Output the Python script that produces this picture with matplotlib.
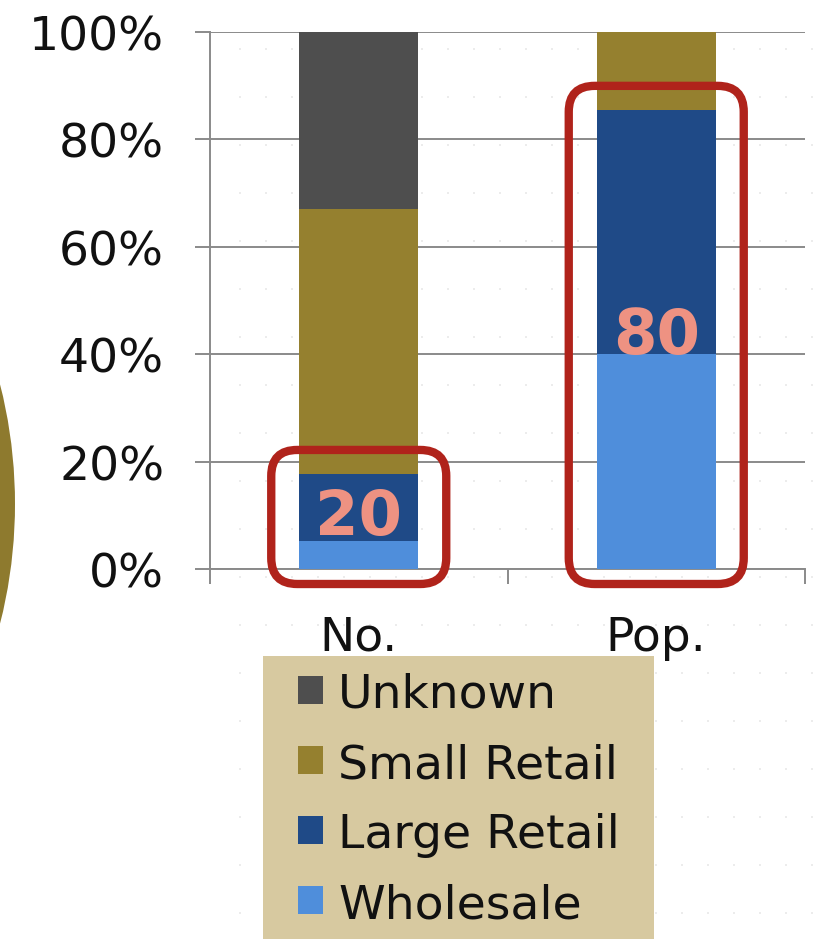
import matplotlib
matplotlib.use("Agg")
import matplotlib.pyplot as plt
from matplotlib.patches import Patch, FancyBboxPatch, Rectangle, Circle
import numpy as np

categories = ["No.", "Pop."]
series_names = ["Wholesale", "Large Retail", "Small Retail", "Unknown"]
wholesale = [5.2, 40.0]
large_retail = [12.5, 45.5]
small_retail = [49.3, 14.5]
unknown = [33.0, 0.0]
highlight_labels = ["20", "80"]
y_ticks = [0, 20, 40, 60, 80, 100]
y_tick_labels = ["0%", "20%", "40%", "60%", "80%", "100%"]

colors = {"Wholesale": "#4F8EDB", "Large Retail": "#1F4A87",
          "Small Retail": "#95802F", "Unknown": "#4E4E4E"}

W, H = 818, 945
fig = plt.figure(figsize=(W / 100, H / 100), dpi=100)
fig.patch.set_facecolor("white")

# faint dotted background
dx = np.arange(240, 818, 26)
dy = np.arange(50, 945, 48)
gx, gy = np.meshgrid(dx, dy)
bg = fig.add_axes([0, 0, 1, 1], zorder=-5)
bg.set_xlim(0, W); bg.set_ylim(H, 0); bg.axis("off")
bg.scatter(gx.ravel(), gy.ravel(), s=4, color="#ececec", marker="s", linewidths=0)

# olive circle at left edge
fig.add_artist(Circle((-4.725, (H - 505) / 100), 4.875, transform=fig.dpi_scale_trans,
                      facecolor="#8E7A2E", edgecolor="none", zorder=-4))

ax = fig.add_axes([210 / W, 1 - 570 / H, (805 - 210) / W, (570 - 33) / H])
ax.set_facecolor("none")
x = np.arange(len(categories))
bw = 0.4
bottom = np.zeros(len(categories))
data = {"Wholesale": wholesale, "Large Retail": large_retail,
        "Small Retail": small_retail, "Unknown": unknown}
for name in series_names:
    vals = np.array(data[name])
    ax.bar(x, vals, bw, bottom=bottom, color=colors[name], zorder=3, linewidth=0)
    bottom += vals

ax.set_xlim(-0.5, 1.5)
ax.set_ylim(0, 100)
ax.set_yticks(y_ticks)
ax.set_yticklabels(y_tick_labels, fontsize=34, color="#111111")
ax.yaxis.grid(True, color="#8a8a8a", linewidth=1.4, zorder=0)
ax.tick_params(axis="y", length=11, width=1.4, color="#8a8a8a", pad=22)
ax.set_xticks(x)
ax.set_xticklabels(categories, fontsize=34, color="#111111")
ax.tick_params(axis="x", which="major", length=0, pad=33)
ax.set_xticks([-0.5, 0.5, 1.5], minor=True)
ax.tick_params(axis="x", which="minor", length=11, width=1.4, color="#8a8a8a")
for s in ["top", "right"]:
    ax.spines[s].set_visible(False)
for s in ["left", "bottom"]:
    ax.spines[s].set_color("#8a8a8a")
    ax.spines[s].set_linewidth(1.4)

# red highlight boxes around wholesale + large retail
ax_w = (805 - 210)
ax_h = (570 - 33)
px_x = 2.0 / ax_w
px_y = 100.0 / ax_h
aspect = px_y / px_x
label_y = [9.6, 43.4]
for i in range(len(categories)):
    top = wholesale[i] + large_retail[i]
    x0 = x[i] - bw / 2 - 28 * px_x
    x1 = x[i] + bw / 2 + 28 * px_x
    y0 = -15 * px_y
    y1 = top + 24 * px_y
    box = FancyBboxPatch((x0, y0), x1 - x0, y1 - y0,
                         boxstyle="round,pad=0,rounding_size=%f" % (26 * px_x),
                         mutation_aspect=aspect, facecolor="none",
                         edgecolor="#B0231B", linewidth=6, zorder=5, clip_on=False)
    ax.add_patch(box)
    ax.text(x[i], label_y[i], highlight_labels[i], ha="center", va="center",
            fontsize=45, fontweight="bold", color="#EE9282", zorder=6)

# legend background
fig.add_artist(Rectangle((263 / W, 1 - 940 / H), (654 - 263) / W, (940 - 657) / H,
                         transform=fig.transFigure, facecolor="#D7C9A0",
                         edgecolor="none", zorder=1))
handles = [Patch(facecolor=colors[n], edgecolor="none") for n in series_names[::-1]]
leg = fig.legend(handles, series_names[::-1], loc="upper left",
                 bbox_to_anchor=(298 / W, 1 - 673 / H), frameon=False,
                 fontsize=34, handlelength=0.53, handleheight=0.53,
                 handletextpad=0.32, labelspacing=0.53, borderaxespad=0, borderpad=0)
for t in leg.get_texts():
    t.set_color("#111111")
leg.set_zorder(2)

fig.savefig("out.png", dpi=100)
